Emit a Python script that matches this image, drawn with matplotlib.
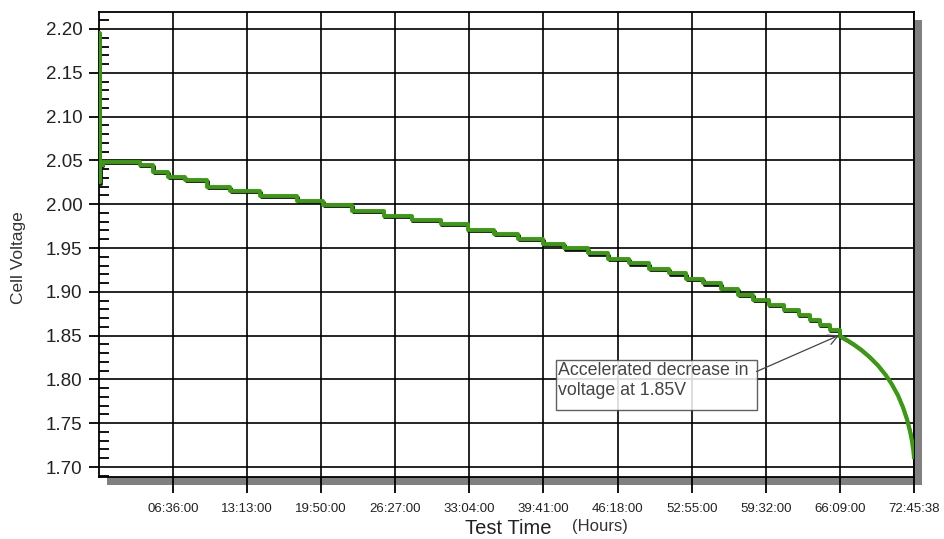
import numpy as np
import matplotlib
matplotlib.use('Agg')
import matplotlib.pyplot as plt
from matplotlib.patches import Rectangle
from matplotlib.transforms import offset_copy
from matplotlib.ticker import MultipleLocator

plt.rcParams['font.family'] = ['Liberation Sans', 'DejaVu Sans']

# staircase: step start time (hours) and cell voltage
time_h = [0.00, 0.05, 0.12, 0.33, 3.64, 4.81, 6.15, 7.67, 9.64, 11.70, 14.39,
          17.70, 20.03, 22.62, 25.40, 27.90, 30.50, 32.92, 35.25, 37.40, 39.63,
          41.51, 43.66, 45.45, 47.33, 49.12, 50.91, 52.42, 53.96, 55.57, 57.09,
          58.43, 59.78, 61.12, 62.46, 63.45, 64.34, 65.24, 66.13]
voltage = [2.195, 2.025, 2.045, 2.0485, 2.0447, 2.0371, 2.0314, 2.0276, 2.0200,
           2.0154, 2.0097, 2.0037, 1.9991, 1.9926, 1.9871, 1.9820, 1.9774,
           1.9705, 1.9660, 1.9603, 1.9546, 1.9497, 1.9439, 1.9374, 1.9325,
           1.9260, 1.9211, 1.9146, 1.9097, 1.9032, 1.8963, 1.8906, 1.8849,
           1.8792, 1.8735, 1.8678, 1.8621, 1.8564, 1.8495]
# final knee after 1.85 V
tail_h = [66.13, 66.76, 67.39, 68.10, 68.82, 69.53, 70.25, 70.78, 71.32, 71.77,
          72.13, 72.40, 72.58, 72.70, 72.76]
tail_v = [1.8495, 1.8450, 1.8399, 1.8333, 1.8253, 1.8162, 1.8048, 1.7945,
          1.7820, 1.7683, 1.7546, 1.7411, 1.7297, 1.7194, 1.7114]

tick_hours = [6.6, 13.2167, 19.8333, 26.45, 33.0667, 39.6833, 46.3, 52.9167,
              59.5333, 66.15, 72.7606]
tick_labels = ['06:36:00', '13:13:00', '19:50:00', '26:27:00', '33:04:00',
               '39:41:00', '46:18:00', '52:55:00', '59:32:00', '66:09:00',
               '72:45:38']

W, H = 945, 539
fig = plt.figure(figsize=(W / 100, H / 100), dpi=100)
x0, x1, y0, y1 = 99, 914, 12, 477
ax = fig.add_axes([x0 / W, 1 - y1 / H, (x1 - x0) / W, (y1 - y0) / H])
ax.set_facecolor('white')

# drop shadow behind the plot frame
sh = 8
fig.patches.append(Rectangle(((x0 + sh) / W, 1 - (y1 + sh) / H), (x1 - x0) / W, (y1 - y0) / H,
                             transform=fig.transFigure, facecolor='#808080',
                             edgecolor='none', zorder=-1))

ax.set_xlim(0, 72.7606)
ax.set_ylim(1.6886, 2.2194)

ax.set_yticks(np.arange(1.70, 2.2001, 0.05))
ax.set_yticklabels(['%.2f' % v for v in np.arange(1.70, 2.2001, 0.05)])
ax.yaxis.set_minor_locator(MultipleLocator(0.01))
ax.set_xticks(tick_hours)
ax.set_xticklabels(tick_labels)

ax.grid(True, which='major', color='black', lw=1.2)
ax.set_axisbelow(True)
for s in ax.spines.values():
    s.set_linewidth(1.3)
    s.set_color('black')

ax.tick_params(axis='y', which='major', direction='out', length=7, width=1.3,
               labelsize=13.5, pad=5, labelcolor='#222222')
ax.tick_params(axis='y', which='minor', direction='in', length=7.5, width=1.3)
ax.tick_params(axis='x', which='major', direction='out', length=11.5, width=1.3,
               labelsize=9.5, pad=7, labelcolor='#222222')

# curve: dark edge slightly below, green on top
shadow_tr = offset_copy(ax.transData, fig=fig, x=0.5, y=-0.9, units='points')
green = '#3c9a12'
ax.plot(time_h, voltage, drawstyle='steps-post', color='#111111', lw=2.0,
        transform=shadow_tr, zorder=3)
ax.plot(tail_h, tail_v, color='#111111', lw=2.0, transform=shadow_tr, zorder=3)
ax.plot(time_h, voltage, drawstyle='steps-post', color=green, lw=2.8, zorder=4)
ax.plot(tail_h, tail_v, color=green, lw=3.0, zorder=4)

# annotation box
ax.add_patch(Rectangle((40.8, 1.765), 17.9, 0.057, facecolor='white', alpha=0.85,
                       edgecolor='#444444', lw=1.0, zorder=5))
ax.text(41.0, 1.8195, 'Accelerated decrease in\nvoltage at 1.85V', ha='left', va='top',
        fontsize=12.8, color='#444444', linespacing=1.2, zorder=6)
ax.annotate('', xy=(66.1, 1.8505), xytext=(58.7, 1.809),
            arrowprops=dict(arrowstyle='->', color='#444444', lw=0.9,
                            mutation_scale=18, shrinkA=0, shrinkB=0), zorder=6)

fig.text(19 / W, 1 - 258 / H, 'Cell Voltage', rotation=90, ha='center', va='center',
         fontsize=12.5, color='#333333')
fig.text(508 / W, 1 - 528 / H, 'Test Time', ha='center', va='center',
         fontsize=14.5, color='#222222')
fig.text(600 / W, 1 - 527 / H, '(Hours)', ha='center', va='center',
         fontsize=12, color='#333333')

fig.savefig('out.png', dpi=100)
